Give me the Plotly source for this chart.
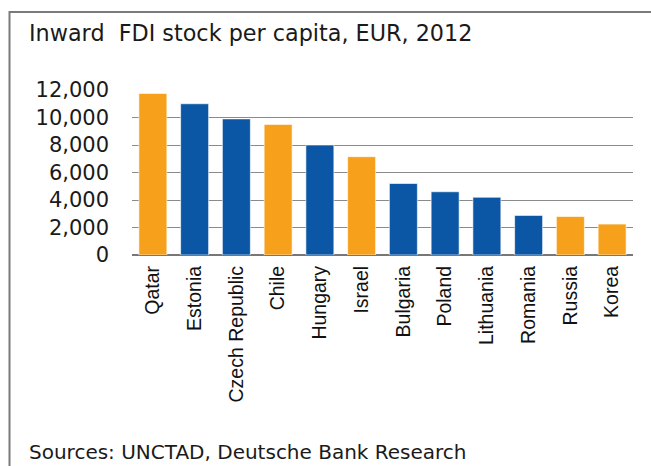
import plotly.graph_objects as go

countries = ["Qatar", "Estonia", "Czech Republic", "Chile", "Hungary", "Israel",
             "Bulgaria", "Poland", "Lithuania", "Romania", "Russia", "Korea"]
fdi_per_capita = [11750, 11000, 9900, 9500, 8000, 7150, 5200, 4600, 4200, 2880, 2800, 2250]
group = ["non-EU", "EU", "EU", "non-EU", "EU", "non-EU", "EU", "EU", "EU", "EU", "non-EU", "non-EU"]
tick_values = [0, 2000, 4000, 6000, 8000, 10000, 12000]
tick_labels = ["0", "2,000", "4,000", "6,000", "8,000", "10,000", "12,000"]

ORANGE = "#F6A01B"
BLUE = "#0B57A6"
colors = [ORANGE if g == "non-EU" else BLUE for g in group]

W, H = 651, 466
L, R, T, B = 132, 18, 90, 211
pw, ph = W - L - R, H - T - B

def px_x(px):
    return (px - L) / pw

def px_y(py):
    return (H - B - py) / ph

fig = go.Figure(go.Bar(
    x=countries, y=fdi_per_capita,
    marker=dict(color=colors, line=dict(color="rgba(255,255,255,0.6)", width=1)),
    hoverinfo="x+y",
))

fig.update_layout(
    width=W, height=H,
    margin=dict(l=L, r=R, t=T, b=B),
    paper_bgcolor="white", plot_bgcolor="white",
    bargap=0.33,
    showlegend=False,
    font=dict(family="DejaVu Sans", color="#1a1a1a"),
    xaxis=dict(
        tickangle=-90,
        tickfont=dict(family="Liberation Sans", size=19.5, color="#111111"),
        showgrid=False, showline=False, ticks="",
        ticklabelstandoff=6,
    ),
    yaxis=dict(
        range=[0, 12000],
        tickvals=tick_values, ticktext=tick_labels,
        tickfont=dict(family="DejaVu Sans", size=21, color="#1a1a1a"),
        showgrid=True, gridcolor="#8a8a8a", gridwidth=1.3,
        zeroline=True, zerolinecolor="#777777", zerolinewidth=1.5,
        ticks="", ticklabelstandoff=22,
        showline=False,
    ),
    shapes=[
        dict(type="line", xref="paper", yref="paper",
             x0=px_x(9.5), x1=px_x(9.5), y0=px_y(11), y1=px_y(470),
             line=dict(color="#7a7a7a", width=2)),
        dict(type="line", xref="paper", yref="paper",
             x0=px_x(9.5), x1=px_x(655), y0=px_y(12), y1=px_y(12),
             line=dict(color="#7a7a7a", width=2)),
    ],
    annotations=[
        dict(text="Inward  FDI stock per capita, EUR, 2012", xref="paper", yref="paper",
             x=px_x(27), y=px_y(18), xanchor="left", yanchor="top", showarrow=False,
             font=dict(family="DejaVu Sans", size=22.3, color="#1a1a1a")),
        dict(text="Sources: UNCTAD, Deutsche Bank Research", xref="paper", yref="paper",
             x=px_x(27), y=px_y(438), xanchor="left", yanchor="top", showarrow=False,
             font=dict(family="DejaVu Sans", size=20, color="#1a1a1a")),
    ],
)

fig.write_html("out.html", config={"displayModeBar": False},
               post_script="document.body.style.margin='0';document.body.style.overflow='hidden';")
